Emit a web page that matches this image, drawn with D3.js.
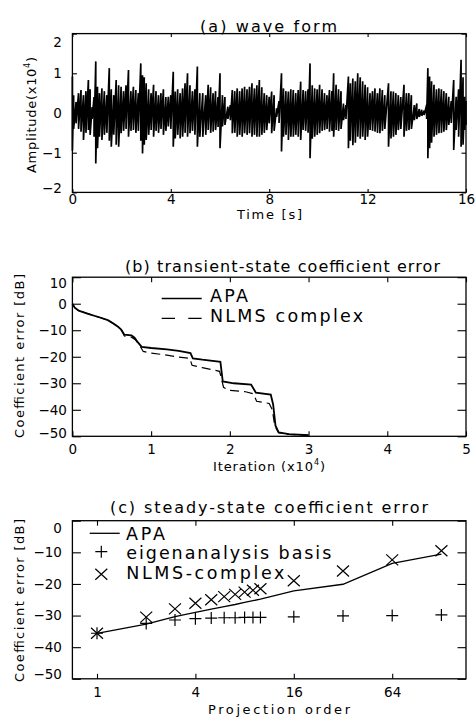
<!DOCTYPE html>
<html>
<head>
<meta charset="utf-8">
<script src="https://cdn.jsdelivr.net/npm/d3@7"></script>
<style>
  body { margin: 0; background: #fff; }
  svg { display: block; }
  text { font-family: "DejaVu Sans", sans-serif; fill: #000; }
</style>
</head>
<body>
<svg id="chart" width="476" height="718"></svg>
<script>
// (a) wave form: upper / lower envelope (x10^4)
const waveTime = [0.0,0.05,0.15,0.25,0.35,0.45,0.55,0.65,0.72,0.8,0.88,0.95,1.02,1.1,1.2,1.3,1.4,1.5,1.58,1.68,1.78,1.88,1.98,2.08,2.18,2.28,2.38,2.48,2.58,2.68,2.78,2.85,2.92,3.0,3.1,3.2,3.3,3.4,3.5,3.6,3.7,3.8,3.9,4.0,4.1,4.18,4.28,4.38,4.48,4.58,4.68,4.78,4.88,4.98,5.08,5.18,5.3,5.42,5.52,5.62,5.72,5.82,5.92,6.0,6.1,6.2,6.32,6.42,6.5,6.6,6.7,6.8,6.9,7.0,7.1,7.2,7.3,7.4,7.5,7.6,7.7,7.8,7.9,8.0,8.1,8.2,8.3,8.4,8.5,8.58,8.68,8.78,8.88,8.98,9.08,9.18,9.28,9.38,9.48,9.58,9.66,9.75,9.85,9.95,10.05,10.15,10.25,10.35,10.45,10.55,10.62,10.72,10.82,10.92,11.02,11.12,11.22,11.3,11.4,11.5,11.6,11.7,11.8,11.9,12.0,12.1,12.2,12.3,12.4,12.5,12.6,12.7,12.85,12.95,13.05,13.15,13.25,13.35,13.48,13.58,13.68,13.78,13.9,14.0,14.1,14.2,14.3,14.4,14.45,14.52,14.6,14.7,14.8,14.9,15.0,15.1,15.2,15.3,15.4,15.5,15.6,15.7,15.8,15.88,15.95,16.0];
const waveMax = [0.92,0.45,0.28,0.5,0.58,0.45,0.55,0.83,0.6,0.15,0.4,1.3,0.66,0.5,0.62,0.55,0.45,1.13,0.6,0.45,0.83,0.7,0.66,0.55,0.7,1.08,0.55,0.66,0.58,0.5,1.25,0.95,0.9,0.75,0.6,0.5,0.71,0.55,0.45,0.5,0.6,0.4,0.41,0.45,1.04,0.54,0.6,0.5,0.62,0.75,1.0,0.7,0.55,0.6,1.17,0.5,0.5,0.45,0.71,0.65,0.5,0.55,0.4,1.0,0.45,0.4,0.16,0.2,0.58,0.55,0.62,0.55,0.62,0.66,0.6,0.66,0.75,0.62,0.7,0.83,0.65,0.5,0.45,0.41,0.54,0.45,0.12,0.3,1.0,0.62,0.55,0.54,0.6,0.58,0.5,0.58,0.79,0.58,0.55,0.6,1.25,0.7,0.62,0.6,0.71,0.6,0.5,0.45,0.58,0.55,1.0,0.71,0.6,0.55,0.24,0.2,0.92,0.75,0.87,0.8,1.0,0.9,0.8,0.71,0.65,0.5,0.55,0.62,0.5,0.62,0.58,0.45,0.75,0.55,0.54,0.5,0.45,0.4,0.71,0.5,0.5,0.45,0.2,0.24,0.1,0.08,0.06,0.2,1.13,0.92,0.8,0.71,0.6,0.62,0.6,0.55,0.5,0.41,0.3,0.83,0.41,0.6,1.34,0.9,0.41,0.3];
const waveMin = [-0.95,-0.4,-0.26,-0.4,-0.47,-0.68,-0.5,-0.43,-0.55,-0.15,-0.6,-1.27,-0.89,-0.6,-0.68,-0.55,-0.5,-0.7,-0.85,-0.55,-0.8,-0.85,-0.51,-0.45,-0.4,-0.6,-0.45,-0.43,-0.5,-0.45,-0.7,-1.02,-0.8,-0.68,-0.55,-0.43,-0.6,-0.45,-0.5,-0.4,-0.55,-0.45,-0.34,-0.4,-0.85,-0.64,-0.55,-0.64,-0.6,-0.5,-0.6,-0.51,-0.45,-0.55,-0.85,-0.6,-0.6,-0.55,-0.43,-0.5,-0.47,-0.43,-0.35,-0.89,-0.34,-0.3,-0.15,-0.18,-0.51,-0.5,-0.6,-0.55,-0.6,-0.51,-0.55,-0.51,-0.6,-0.55,-0.6,-0.6,-0.55,-0.5,-0.43,-0.26,-0.51,-0.45,-0.1,-0.25,-0.97,-0.6,-0.55,-0.68,-0.6,-0.6,-0.55,-0.6,-0.68,-0.43,-0.45,-0.5,-1.14,-0.65,-0.6,-0.55,-0.51,-0.45,-0.43,-0.4,-0.47,-0.45,-0.6,-0.43,-0.45,-0.4,-0.18,-0.15,-0.89,-0.7,-0.81,-0.75,-0.6,-0.65,-0.6,-0.68,-0.6,-0.43,-0.45,-0.47,-0.5,-0.51,-0.45,-0.4,-0.85,-0.64,-0.6,-0.55,-0.43,-0.4,-0.6,-0.45,-0.43,-0.4,-0.18,-0.15,-0.1,-0.07,-0.05,-0.15,-1.14,-0.89,-0.75,-0.6,-0.55,-0.51,-0.5,-0.47,-0.43,-0.3,-0.25,-0.93,-0.43,-0.6,-0.85,-0.8,-0.43,-0.3];
const waveTimeTicks = [0, 4, 8, 12, 16];
const waveAmpTicks = [-2, -1, 0, 1, 2];

// (b) transient-state coefficient error, iteration in x10^4, error in dB
const apaIter = [0,0.03,0.08,0.2,0.35,0.45,0.52,0.58,0.62,0.66,0.75,0.79,0.83,0.88,1.0,1.2,1.35,1.5,1.53,1.65,1.88,1.91,2.05,2.27,2.33,2.52,2.55,2.58,2.62,2.75,3.0];
const apaErr = [0,-1.5,-2.6,-3.8,-5.2,-6.2,-7.5,-8.7,-9.8,-11.7,-11.9,-12.8,-14.5,-16.3,-16.7,-17.2,-17.8,-18.6,-20.6,-21.1,-21.9,-29.3,-30.0,-30.5,-33.5,-34.3,-38,-46,-48.5,-49.2,-49.6];
const nlmsIter = [0,0.03,0.08,0.2,0.35,0.45,0.52,0.58,0.62,0.66,0.75,0.8,0.85,0.9,1.0,1.2,1.35,1.49,1.52,1.65,1.87,1.92,1.98,2.2,2.3,2.34,2.5,2.54,2.57,2.62,2.75,3.0];
const nlmsErr = [0,-1.5,-2.6,-3.8,-5.2,-6.2,-7.5,-8.7,-9.8,-12.2,-12.6,-13.6,-15.5,-18,-18.6,-19.4,-20.1,-20.6,-23.2,-24.1,-25.5,-31.5,-32.6,-33.2,-34,-36.8,-37.6,-40,-46,-48.6,-49.3,-49.6];
const iterTicks = [0, 1, 2, 3, 4, 5];
const transErrTicks = [-50, -40, -30, -20, -10, 0, 10];

// (c) steady-state coefficient error vs projection order
const orders = [1,2,3,4,5,6,7,8,9,10,16,32,64,128];
const apaSteady = [-35.6,-32.7,-30.3,-29.0,-28.0,-27.2,-26.5,-25.8,-25.3,-24.8,-22.2,-20.1,-13.5,-10.6];
const eigenSteady = [-35.6,-32.5,-31.4,-31.0,-30.8,-30.7,-30.7,-30.6,-30.6,-30.6,-30.4,-30.1,-30.0,-29.8];
const nlmsSteady = [-35.6,-30.5,-27.9,-26.1,-25.0,-24.0,-23.3,-22.6,-22.0,-21.5,-19.0,-15.9,-12.4,-9.5];
const orderTicks = [1, 4, 16, 64];
const steadyErrTicks = [-50, -40, -30, -20, -10, 0];

const svg = d3.select("#chart");
svg.append("rect").attr("width", 476).attr("height", 718).attr("fill", "#fff");

const left = 72.4, right = 466;

function label(g, txt, x, y, size, width, anchor, rotate) {
    const t = g.append("text")
        .attr("x", x).attr("y", y)
        .attr("font-size", size)
        .attr("text-anchor", anchor || "middle")
        .text(txt);
    if (width) t.attr("textLength", width).attr("lengthAdjust", "spacing");
    if (rotate) t.attr("transform", `rotate(${rotate},${x},${y})`);
    return t;
}

function superLabel(g, pre, sup, post, x, y, size, width, rotate) {
    const t = g.append("text")
        .attr("x", x).attr("y", y)
        .attr("font-size", size)
        .attr("text-anchor", "middle");
    t.append("tspan").text(pre);
    t.append("tspan").attr("dy", -size * 0.45).attr("font-size", size * 0.62).text(sup);
    t.append("tspan").attr("dy", size * 0.45).text(post);
    if (width) t.attr("textLength", width).attr("lengthAdjust", "spacing");
    if (rotate) t.attr("transform", `rotate(${rotate},${x},${y})`);
    return t;
}

function frame(x, y, o) {
    const [yb, yt] = y.range();
    const g = svg.append("g");

    const axes = [
        g.append("g").attr("transform", `translate(0,${yb})`)
            .call(d3.axisBottom(x).tickValues(o.xTicks).tickFormat(o.xFmt || d3.format("d"))
                .tickSizeInner(-o.xLen).tickSizeOuter(0).tickPadding(o.xPad)),
        g.append("g").attr("transform", `translate(0,${yt})`)
            .call(d3.axisTop(x).tickValues(o.xTicks).tickFormat("")
                .tickSizeInner(-o.xLen).tickSizeOuter(0)),
        g.append("g").attr("transform", `translate(${left},0)`)
            .call(d3.axisLeft(y).tickValues(o.yTicks).tickFormat(d3.format("d"))
                .tickSizeInner(-o.yLen).tickSizeOuter(0).tickPadding(o.yPad)),
        g.append("g").attr("transform", `translate(${right},0)`)
            .call(d3.axisRight(y).tickValues(o.yTicks).tickFormat("")
                .tickSizeInner(-o.yLen).tickSizeOuter(0))
    ];
    axes.forEach(a => {
        a.attr("font-family", null).attr("font-size", null);
        a.select(".domain").remove();
        a.selectAll(".tick line").attr("stroke", "#000").attr("stroke-width", 1.1);
        a.selectAll(".tick text").attr("font-size", 13.5).attr("fill", "#000");
    });

    // end labels sit a little inside the box
    const yt0 = d3.min(o.yTicks), yt1 = d3.max(o.yTicks);
    axes[2].selectAll(".tick text")
        .attr("transform", d => d === yt1 ? `translate(0,${o.topNudge})` : d === yt0 ? `translate(0,${-o.botNudge})` : null);

    g.append("rect")
        .attr("x", left).attr("y", yt)
        .attr("width", right - left).attr("height", yb - yt)
        .attr("fill", "none").attr("stroke", "#000").attr("stroke-width", 1.3);
    return g;
}

// ---------- (a) wave form ----------
const xa = d3.scaleLinear().domain([0, 16]).range([left, right]);
const ya = d3.scaleLinear().domain([-2, 2]).range([192.4, 33.6]);
const ga = frame(xa, ya, { xTicks: waveTimeTicks, yTicks: waveAmpTicks, xLen: 3.5, yLen: 4.5, xPad: 2.5, yPad: 10.5, topNudge: 9, botNudge: 4.5 });

// zigzag between the upper and lower envelope at every sample
const wave = waveTime.flatMap((t, i) => [[t, waveMax[i]], [t, waveMin[i]]]);
ga.append("path")
    .datum(wave)
    .attr("d", d3.line().x(d => xa(d[0])).y(d => ya(d[1])))
    .attr("fill", "none").attr("stroke", "#000").attr("stroke-width", 1.7)
    .attr("stroke-linejoin", "miter");

label(ga, "(a) wave form", 268.5, 31.5, 16, 137);
label(ga, "Time [s]", 269.5, 218.5, 13, 65);
superLabel(ga, "Amplitude(x10", "4", ")", 35.5, 115, 13, 116, -90);

// ---------- (b) transient-state coefficient error ----------
const xb = d3.scaleLinear().domain([0, 5]).range([left, right]);
const yb = d3.scaleLinear().domain([-50, 10]).range([436.3, 277.2]);
const gb = frame(xb, yb, { xTicks: iterTicks, yTicks: transErrTicks, xLen: 5, yLen: 8.5, xPad: 8.5, yPad: 5.5, topNudge: 6, botNudge: 3.6 });

const lineB = d3.line().x(d => xb(d[0])).y(d => yb(d[1]));
gb.append("path")
    .datum(nlmsIter.map((v, i) => [v, nlmsErr[i]]))
    .attr("d", lineB)
    .attr("fill", "none").attr("stroke", "#000").attr("stroke-width", 1.2)
    .attr("stroke-dasharray", "9,5");
gb.append("path")
    .datum(apaIter.map((v, i) => [v, apaErr[i]]))
    .attr("d", lineB)
    .attr("fill", "none").attr("stroke", "#000").attr("stroke-width", 1.8);

gb.append("line").attr("x1", 161.7).attr("x2", 201.7).attr("y1", 298.5).attr("y2", 298.5)
    .attr("stroke", "#000").attr("stroke-width", 1.5);
gb.append("line").attr("x1", 161.7).attr("x2", 201.7).attr("y1", 318.3).attr("y2", 318.3)
    .attr("stroke", "#000").attr("stroke-width", 1.3).attr("stroke-dasharray", "13.3,13.3");
label(gb, "APA", 210, 301.5, 17.5, 38, "start");
label(gb, "NLMS complex", 210, 321.5, 17.5, 153, "start");

label(gb, "(b) transient-state coefficient error", 282.5, 272, 16, 315);
superLabel(gb, "Iteration (x10", "4", ")", 269, 471, 13, 112);
label(gb, "Coefficient error [dB]", 24, 356, 13, 164, "middle", -90);

// ---------- (c) steady-state coefficient error ----------
const xc = d3.scaleLog().base(2).domain([Math.pow(2, -0.5), Math.pow(2, 7.5)]).range([left, right]);
const yc = d3.scaleLinear().domain([-50, 0]).range([678.8, 520.7]);
const gc = frame(xc, yc, { xTicks: orderTicks, yTicks: steadyErrTicks, xLen: 5, yLen: 8.5, xPad: 8.5, yPad: 10.5, topNudge: 7, botNudge: 5 });

gc.append("path")
    .datum(orders.map((o, i) => [o, apaSteady[i]]))
    .attr("d", d3.line().x(d => xc(d[0])).y(d => yc(d[1])))
    .attr("fill", "none").attr("stroke", "#000").attr("stroke-width", 1.3);

const plus = "M-6,0H6M0,-6V6";
const cross = "M-6,-5.5L6,5.5M-6,5.5L6,-5.5";
gc.selectAll(".eig").data(orders.map((o, i) => [o, eigenSteady[i]])).join("path")
    .attr("transform", d => `translate(${xc(d[0])},${yc(d[1])})`)
    .attr("d", plus).attr("fill", "none").attr("stroke", "#000").attr("stroke-width", 1.2);
gc.selectAll(".nlc").data(orders.map((o, i) => [o, nlmsSteady[i]])).join("path")
    .attr("transform", d => `translate(${xc(d[0])},${yc(d[1])})`)
    .attr("d", cross).attr("fill", "none").attr("stroke", "#000").attr("stroke-width", 1.2);

gc.append("line").attr("x1", 89.7).attr("x2", 119.7).attr("y1", 533.3).attr("y2", 533.3)
    .attr("stroke", "#000").attr("stroke-width", 1.3);
gc.append("path").attr("transform", "translate(101.3,551.7)").attr("d", plus)
    .attr("fill", "none").attr("stroke", "#000").attr("stroke-width", 1.2);
gc.append("path").attr("transform", "translate(101.3,574.3)").attr("d", cross)
    .attr("fill", "none").attr("stroke", "#000").attr("stroke-width", 1.2);
label(gc, "APA", 126, 540, 17.5, 39, "start");
label(gc, "eigenanalysis basis", 126.3, 558.5, 17.5, 205, "start");
label(gc, "NLMS-complex", 126.3, 579, 17.5, 158, "start");

label(gc, "(c) steady-state coefficient error", 269, 513, 16, 318);
label(gc, "Projection order", 279, 714, 13, 142);
label(gc, "Coefficient error [dB]", 24, 600.5, 13, 163, "middle", -90);
</script>
</body>
</html>
